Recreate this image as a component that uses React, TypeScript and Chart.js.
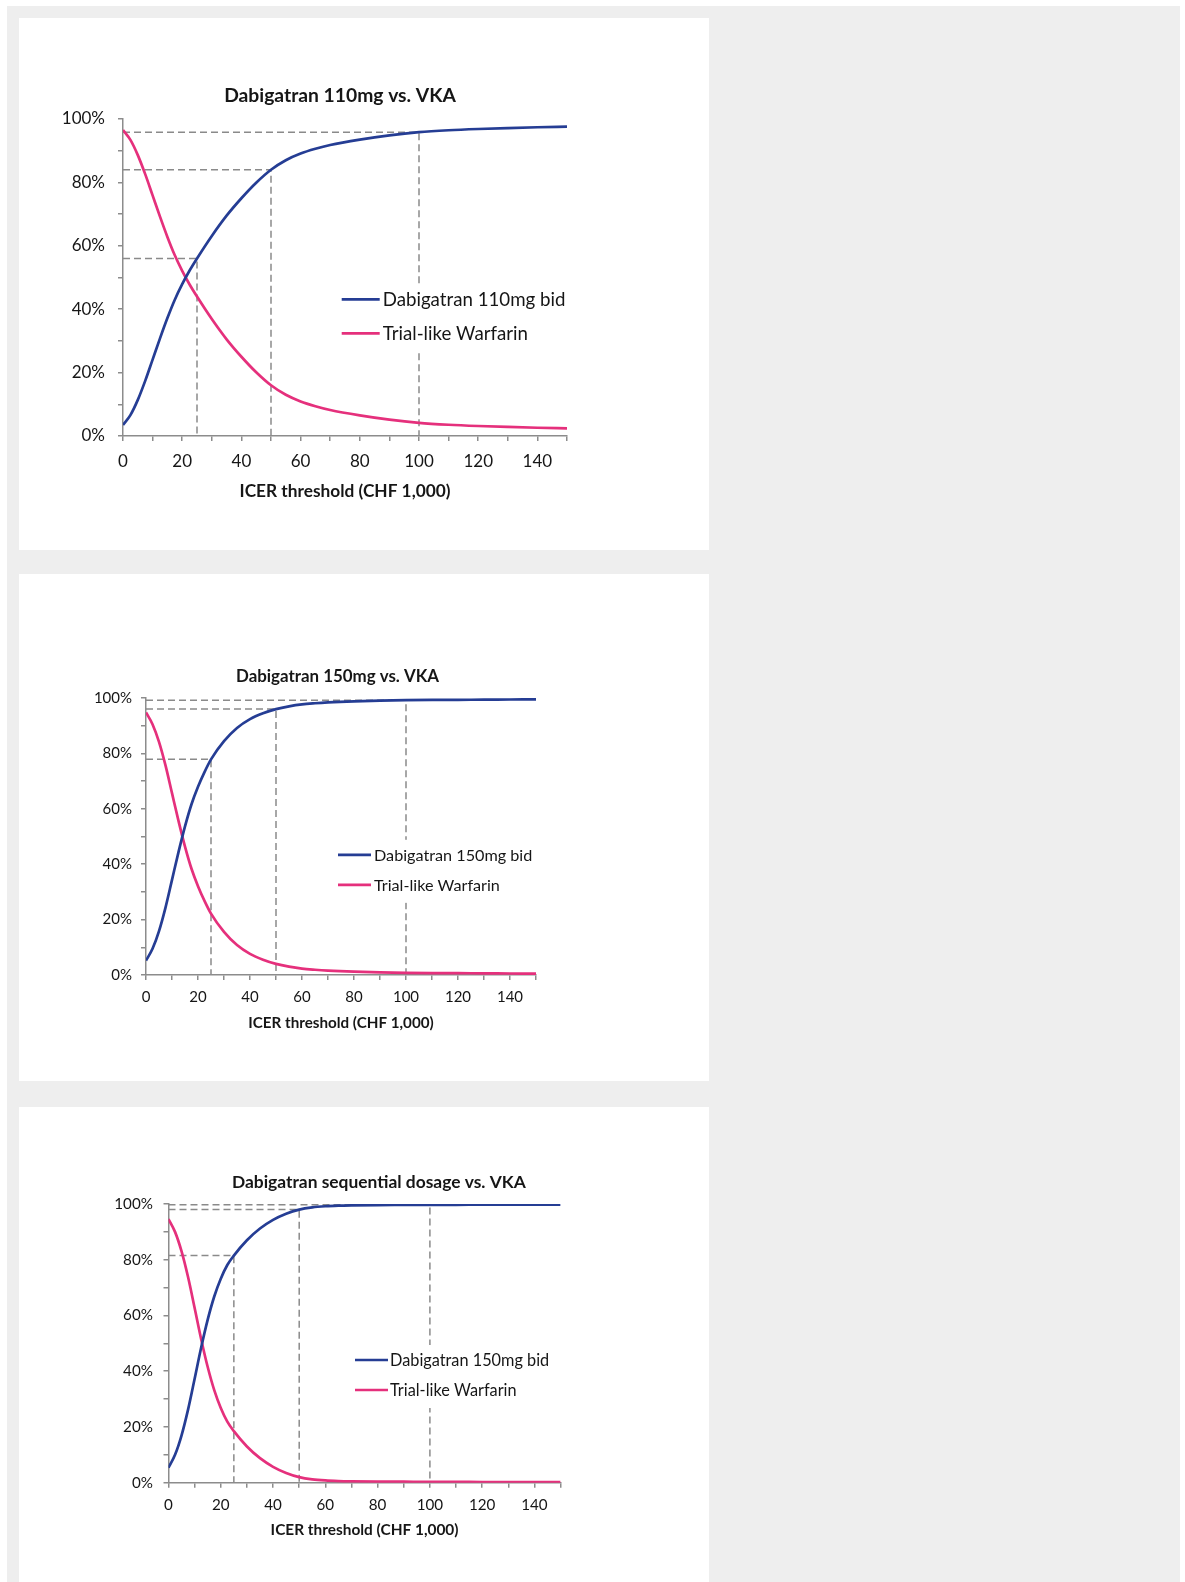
import React, { useEffect, useRef } from 'react';
import { Chart, registerables } from 'chart.js';

Chart.register(...registerables);

// ---------- data ----------
const thresholds = [0, 2.5, 5, 7.5, 10, 12.5, 15, 17.5, 20, 22.5, 25, 30, 35, 40, 45, 50, 55, 60, 65, 70, 80, 90, 100, 110, 120, 130, 140, 150];

const dabi110 = [3.5, 6.6, 11.4, 17.4, 24.1, 30.8, 37.2, 43.0, 47.9, 52.2, 56.0, 63.1, 69.5, 75.0, 79.9, 84.0, 87.0, 89.1, 90.6, 91.8, 93.5, 94.85, 95.85, 96.45, 96.85, 97.15, 97.4, 97.6];
const warfarin1 = [96.5, 93.4, 88.6, 82.6, 75.9, 69.2, 62.8, 57.0, 52.1, 47.8, 44.0, 36.9, 30.5, 25.0, 20.1, 16.0, 13.0, 10.9, 9.4, 8.2, 6.5, 5.15, 4.15, 3.55, 3.15, 2.85, 2.6, 2.4];

const dabi150 = [5.2, 9.45, 15.85, 24.35, 34.35, 44.35, 53.65, 61.65, 67.95, 73.25, 77.85, 84.45, 89.2, 92.4, 94.5, 96.0, 97.0, 97.7, 98.1, 98.4, 98.8, 99.05, 99.2, 99.3, 99.35, 99.4, 99.45, 99.5];
const warfarin2 = [94.8, 90.55, 84.15, 75.65, 65.65, 55.65, 46.35, 38.35, 32.05, 26.75, 22.15, 15.55, 10.8, 7.6, 5.5, 4.0, 3.0, 2.3, 1.9, 1.6, 1.2, 0.95, 0.8, 0.7, 0.65, 0.6, 0.55, 0.5];

const dabiSeq = [5.4, 10.0, 17.0, 26.3, 37.3, 48.5, 58.5, 66.8, 73.2, 78.1, 81.5, 87.0, 91.2, 94.3, 96.5, 98.0, 98.8, 99.2, 99.4, 99.5, 99.6, 99.65, 99.7, 99.72, 99.75, 99.77, 99.79, 99.8];
const warfarin3 = [94.6, 90.0, 83.0, 73.7, 62.7, 51.5, 41.5, 33.2, 26.8, 21.9, 18.5, 13.0, 8.8, 5.7, 3.5, 2.0, 1.2, 0.8, 0.6, 0.5, 0.4, 0.35, 0.3, 0.28, 0.25, 0.23, 0.21, 0.2];

const guideThresholds = [25, 50, 100];
const guide1 = [56, 84, 95.85];
const guide2 = [77.9, 96, 99.2];
const guide3 = [81.5, 98, 99.7];

const titles = ['Dabigatran 110mg vs. VKA', 'Dabigatran 150mg vs. VKA', 'Dabigatran sequential dosage vs. VKA'];
const seriesNames1 = ['Dabigatran 110mg bid', 'Trial-like Warfarin'];
const seriesNames2 = ['Dabigatran 150mg bid', 'Trial-like Warfarin'];
const seriesNames3 = ['Dabigatran 150mg bid', 'Trial-like Warfarin'];
const xAxisTitle = 'ICER threshold (CHF 1,000)';

// ---------- style ----------
const FONT = 'Lato, "Open Sans", sans-serif';
const TEXT = '#161616';
const AXIS = '#8c8c8c';
const GUIDE = '#8a8a8a';
const BLUE = '#253d94';
const PINK = '#e5307c';

type Layout = {
  left: number; top: number; w: number; h: number;
  padL: number; padR: number; padT: number; padB: number;
  yAxisW: number; xAxisH: number;
  xTickPad: number; yTickPad: number; xTitlePadB: number;
  tickSize: number; axisTitleSize: number;
  titleSize: number; titleDx: number; titleDy: number;
  legSize: number; legX: number; legY: number; legGap: number; legLine: number; legTextGap: number;
};

const layouts: Layout[] = [
  { left: 19, top: 18, w: 690, h: 532, padL: 44, padR: 142, padT: 101, padB: 44, yAxisW: 60, xAxisH: 70,
    xTickPad: 10.5, yTickPad: 13, xTitlePadB: 4, tickSize: 17, axisTitleSize: 17.3,
    titleSize: 19.3, titleDx: -5, titleDy: 23.3,
    legSize: 18.7, legX: 218.7, legY: 180.3, legGap: 34, legLine: 38, legTextGap: 3 },
  { left: 19, top: 574, w: 690, h: 507, padL: 67, padR: 173, padT: 124, padB: 36, yAxisW: 60, xAxisH: 70,
    xTickPad: 8, yTickPad: 9, xTitlePadB: 13, tickSize: 15, axisTitleSize: 15.2,
    titleSize: 16.9, titleDx: -3.5, titleDy: 21.2,
    legSize: 16.2, legX: 192, legY: 156.8, legGap: 30, legLine: 33, legTextGap: 3 },
  { left: 19, top: 1107, w: 690, h: 475, padL: 89.5, padR: 148.4, padT: 97, padB: 29.3, yAxisW: 60, xAxisH: 70,
    xTickPad: 8, yTickPad: 10.6, xTitlePadB: 13, tickSize: 15.2, axisTitleSize: 15.4,
    titleSize: 17.4, titleDx: 14.3, titleDy: 22,
    legSize: 16.3, legX: 186.5, legY: 156, legGap: 30, legLine: 33, legTextGap: 2 },
];

type PanelSpec = {
  title: string; names: string[]; blue: number[]; red: number[]; guide: number[]; lay: Layout;
};

const panels: PanelSpec[] = [
  { title: titles[0], names: seriesNames1, blue: dabi110, red: warfarin1, guide: guide1, lay: layouts[0] },
  { title: titles[1], names: seriesNames2, blue: dabi150, red: warfarin2, guide: guide2, lay: layouts[1] },
  { title: titles[2], names: seriesNames3, blue: dabiSeq, red: warfarin3, guide: guide3, lay: layouts[2] },
];

function Panel({ spec }: { spec: PanelSpec }) {
  const ref = useRef<HTMLCanvasElement | null>(null);
  useEffect(() => {
    if (!ref.current) return;
    const L = spec.lay;
    const curve = (vals: number[], color: string, label: string) => ({
      label,
      data: thresholds.map((x, i) => ({ x, y: vals[i] })),
      borderColor: color,
      backgroundColor: color,
      borderWidth: 2.7,
      pointRadius: 0,
      cubicInterpolationMode: 'monotone' as const,
      fill: false,
    });
    const guides = guideThresholds.map((gx, i) => ({
      label: 'guide' + i,
      data: [{ x: 0, y: spec.guide[i] }, { x: gx, y: spec.guide[i] }, { x: gx, y: 0 }],
      borderColor: GUIDE,
      borderWidth: 1.5,
      borderDash: [7, 4],
      pointRadius: 0,
      tension: 0,
      fill: false,
    }));

    const titlePlugin = {
      id: 'panelTitle',
      afterDraw(chart: any) {
        const { ctx, chartArea } = chart;
        ctx.save();
        ctx.font = `bold ${L.titleSize}px ${FONT}`;
        ctx.fillStyle = TEXT;
        ctx.textAlign = 'center';
        ctx.textBaseline = 'middle';
        ctx.fillText(spec.title, (chartArea.left + chartArea.right) / 2 + L.titleDx, chartArea.top - L.titleDy);
        ctx.restore();
      },
    };

    const legendPlugin = {
      id: 'panelLegend',
      afterDatasetsDraw(chart: any) {
        const { ctx, chartArea } = chart;
        ctx.save();
        ctx.font = `${L.legSize}px ${FONT}`;
        const x0 = chartArea.left + L.legX;
        const y0 = chartArea.top + L.legY;
        const tx = x0 + L.legLine + L.legTextGap;
        const maxW = Math.max(...spec.names.map((n) => ctx.measureText(n).width));
        ctx.fillStyle = '#ffffff';
        ctx.fillRect(x0 - 6, y0 - 15, L.legLine + L.legTextGap + maxW + 12, L.legGap + 33);
        const colors = [BLUE, PINK];
        spec.names.forEach((n, i) => {
          const y = y0 + i * L.legGap;
          ctx.strokeStyle = colors[i];
          ctx.lineWidth = 2.7;
          ctx.beginPath();
          ctx.moveTo(x0, y);
          ctx.lineTo(x0 + L.legLine, y);
          ctx.stroke();
          ctx.fillStyle = TEXT;
          ctx.textAlign = 'left';
          ctx.textBaseline = 'middle';
          ctx.fillText(n, tx, y + 1);
        });
        ctx.restore();
      },
    };

    const chart = new Chart(ref.current, {
      type: 'line',
      data: {
        datasets: [curve(spec.blue, BLUE, spec.names[0]), curve(spec.red, PINK, spec.names[1]), ...guides] as any,
      },
      options: {
        responsive: false,
        animation: false,
        events: [],
        layout: { padding: { left: L.padL, right: L.padR, top: L.padT, bottom: L.padB } },
        plugins: { legend: { display: false }, tooltip: { enabled: false }, title: { display: false } },
        scales: {
          x: {
            type: 'linear',
            min: 0,
            max: 150,
            afterFit: (s: any) => { s.height = L.xAxisH; },
            ticks: {
              stepSize: 10,
              autoSkip: false,
              maxRotation: 0,
              padding: L.xTickPad,
              color: TEXT,
              font: { family: FONT, size: L.tickSize },
              callback: (v: any) => (Number(v) % 20 === 0 ? String(v) : ''),
            },
            grid: { drawOnChartArea: false, drawTicks: true, tickLength: 5, color: AXIS, lineWidth: 1.5 },
            border: { color: AXIS, width: 1.5 },
            title: {
              display: true,
              text: xAxisTitle,
              color: TEXT,
              font: { family: FONT, size: L.axisTitleSize, weight: 'bold' },
              padding: { top: 0, bottom: L.xTitlePadB },
            },
          },
          y: {
            type: 'linear',
            min: 0,
            max: 100,
            afterFit: (s: any) => { s.width = L.yAxisW; },
            ticks: {
              stepSize: 10,
              autoSkip: false,
              padding: L.yTickPad,
              color: TEXT,
              font: { family: FONT, size: L.tickSize },
              callback: (v: any) => (Number(v) % 20 === 0 ? `${v}%` : ''),
            },
            grid: { drawOnChartArea: false, drawTicks: true, tickLength: 5, color: AXIS, lineWidth: 1.5 },
            border: { color: AXIS, width: 1.5 },
          },
        },
      } as any,
      plugins: [titlePlugin, legendPlugin],
    });
    return () => chart.destroy();
  }, [spec]);

  const L = spec.lay;
  return (
    <div style={{ position: 'absolute', left: L.left, top: L.top, width: L.w, height: L.h, background: '#ffffff' }}>
      <canvas ref={ref} width={L.w} height={L.h} style={{ width: L.w, height: L.h, display: 'block' }} />
    </div>
  );
}

export default function App() {
  return (
    <div style={{ position: 'fixed', left: 0, top: 0, width: 1185, height: 1582, background: '#ffffff', overflow: 'hidden' }}>
      <div style={{ position: 'absolute', left: 7, top: 6, width: 1173, height: 1576, background: '#eeeeee' }} />
      {panels.map((p, i) => (
        <Panel key={i} spec={p} />
      ))}
    </div>
  );
}
